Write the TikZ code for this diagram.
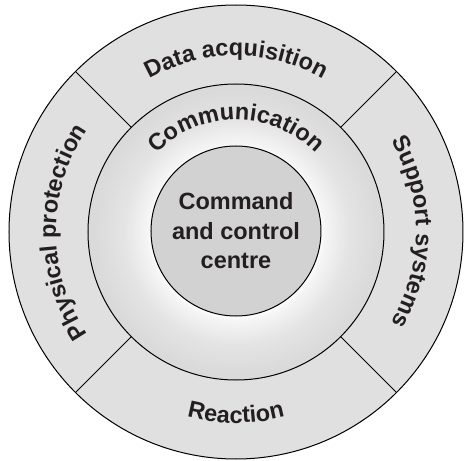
\documentclass[tikz,border=0pt]{standalone}
\usepackage{fontspec}
\setmainfont{Liberation Sans}
\usepackage{xcolor}
\usepackage{tikz}
\usetikzlibrary{decorations.text}
\definecolor{rimgray}{HTML}{E0E0E0}
\definecolor{coregray}{HTML}{D2D2D2}
\definecolor{glowgray}{HTML}{F5F5F5}
\definecolor{midgray}{HTML}{E4E4E4}
\definecolor{edgegray}{HTML}{DADADA}
\definecolor{inkgray}{HTML}{231F20}
\pgfdeclareradialshading{commshade}{\pgfpointorigin}{color(0bp)=(white); color(14bp)=(white); color(15bp)=(glowgray); color(19bp)=(midgray); color(24bp)=(edgegray); color(50bp)=(edgegray)}
\newcommand{\ringfont}{\fontsize{23.5}{29.5}\selectfont\bfseries}
\tikzset{
  ring/.style={circle, draw=black, line width=1pt, inner sep=0pt, outer sep=0pt},
  divider/.style={draw=black, line width=1pt},
  ringtext/.style={decorate, decoration={text along path, text align=center, text color=inkgray, text={|\ringfont|#1}}}
}

\begin{document}
\begin{tikzpicture}[x=1pt, y=1pt]
  \useasboundingbox (-236,-229) rectangle (228,232);
  \node[ring, minimum size=454pt, fill=rimgray] (rim) at (0,0) {};
  \node[ring, minimum size=296pt, shading=commshade] (comm) at (0,0) {};
  \node[ring, minimum size=170pt, fill=coregray, text=inkgray, align=center, font=\ringfont] (core) at (0,1) {Command\\and control\\centre};
  \foreach \a in {45,135,225,315}
    \draw[divider] (comm.\a) -- (rim.\a);
  % labels along the rings
  \path[ringtext={Data acquisition}] (160:176) arc (160:20:176);
  \path[ringtext={Support systems}] (70:180) arc (70:-70:180);
  \path[ringtext={Reaction}] (200:191) arc (200:340:191);
  \path[ringtext={Physical protection}] (250:180) arc (250:110:180);
  \path[ringtext={Communication}] (170:112) arc (170:10:112);
\end{tikzpicture}
\end{document}
